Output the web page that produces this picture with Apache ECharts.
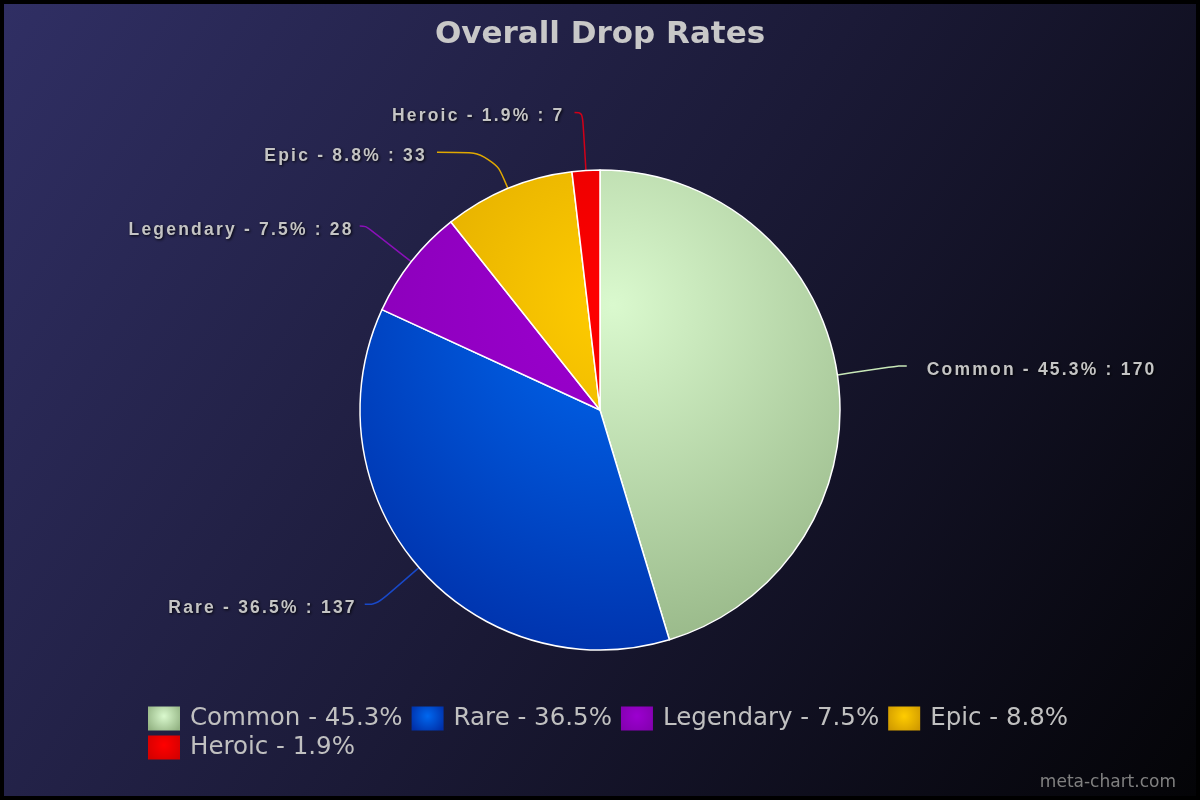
<!DOCTYPE html>
<html>
<head>
<meta charset="utf-8">
<script src="https://cdn.jsdelivr.net/npm/echarts@6/dist/echarts.min.js"></script>
<style>
html,body{margin:0;padding:0;background:#000;}
#chart{width:1200px;height:800px;}
</style>
</head>
<body>
<div id="chart"></div>
<script>
// ---- data ----
const categories = ['Common', 'Rare', 'Legendary', 'Epic', 'Heroic'];
const values = [170, 137, 28, 33, 7];
const innerColors = ['#daf9ce', '#0068f0', '#9c00d0', '#ffcc00', '#ff0000'];
const outerColors = ['#93b383', '#002fa8', '#8400b0', '#d09a00', '#d40000'];
const lineColors = ['#c8e8b8', '#1848c8', '#8a10b8', '#e0a800', '#d00018'];
const lineLen1 = [62, 56, 58, 39, 58];
const lineLen2 = [8, 12, 6, 56, 8];
const labelGap = [20, 8, 6, 10, 10];

// letter-spaced slice labels (canvas letterSpacing only for the 17.5px label font)
(function(){
  const proto = CanvasRenderingContext2D.prototype;
  const orig = proto.fillText;
  proto.fillText = function(){
    const f = this.font;
    if (f && f.indexOf('17.5px') >= 0 && ('letterSpacing' in this)) {
      this.letterSpacing = '2.2px';
      this.font = f;
      orig.apply(this, arguments);
      this.letterSpacing = '0px';
      this.font = f;
    } else {
      if ('letterSpacing' in this && this.letterSpacing !== '0px') {
        this.letterSpacing = '0px';
        this.font = f;
      }
      orig.apply(this, arguments);
    }
  };
})();

const total = values.reduce((a, b) => a + b, 0);
const pct = v => (v / total * 100).toFixed(1);

function sliceGrad(i) {
  return {
    type: 'radial', x: 613, y: 305, r: 380, global: true,
    colorStops: [{offset: 0, color: innerColors[i]}, {offset: 1, color: outerColors[i]}]
  };
}
function iconGrad(i) {
  return {
    type: 'radial', x: 0.5, y: 0.4, r: 0.8,
    colorStops: [{offset: 0, color: innerColors[i]}, {offset: 1, color: outerColors[i]}]
  };
}

const chart = echarts.init(document.getElementById('chart'), null, {renderer: 'canvas'});
chart.setOption({
  backgroundColor: '#000',
  animation: false,
  graphic: [{
    type: 'rect', z: -10, silent: true,
    shape: {x: 4, y: 4, width: 1192, height: 792},
    style: {
      fill: {
        type: 'linear', x: 0, y: 0, x2: 1, y2: 1,
        colorStops: [
          {offset: 0, color: '#302f64'},
          {offset: 0.5, color: '#1b1a37'},
          {offset: 1, color: '#040407'}
        ]
      }
    }
  }],
  title: [{
    text: 'Overall Drop Rates',
    left: 'center', top: 14,
    textStyle: {fontFamily: 'DejaVu Sans', fontWeight: 'bold', fontSize: 31, color: '#c8c8c8'}
  }, {
    text: 'meta-chart.com',
    right: 19, bottom: 4,
    textStyle: {fontFamily: 'DejaVu Sans', fontWeight: 'normal', fontSize: 17, color: '#808080'}
  }],
  legend: {
    orient: 'horizontal',
    left: 148, top: 706, width: 950,
    itemWidth: 32, itemHeight: 24, itemGap: 4,
    icon: 'rect',
    padding: 0,
    data: categories.map((c, i) => ({name: c, itemStyle: {color: iconGrad(i), borderWidth: 0}})),
    formatter: name => name + ' - ' + pct(values[categories.indexOf(name)]) + '%',
    textStyle: {fontFamily: 'DejaVu Sans', fontSize: 24.5, color: '#c0c0c0', lineHeight: 24, padding: [0, 5, 0, 5]}
  },
  series: [{
    type: 'pie',
    center: [600, 410],
    radius: 240,
    startAngle: 90,
    clockwise: true,
    avoidLabelOverlap: false,
    percentPrecision: 1,
    emphasis: {disabled: true},
    itemStyle: {borderColor: '#ffffff', borderWidth: 1.5},
    label: {
      show: true,
      position: 'outside',
      formatter: '{s| }\n{t|{b} - {d}% : {c}}',
      fontFamily: 'Liberation Sans',
      fontWeight: 'bold',
      fontSize: 17.5,
      color: '#c4c4c4',
      textShadowColor: 'rgba(0,0,0,0.9)',
      textShadowBlur: 3,
      textShadowOffsetX: 1,
      textShadowOffsetY: 1,
      rich: {
        s: {fontSize: 2, lineHeight: 8},
        t: {fontSize: 17.5, lineHeight: 20}
      }
    },
    labelLine: {show: true, smooth: 0.4, lineStyle: {width: 1.5}},
    data: categories.map((c, i) => ({
      name: c,
      value: values[i],
      itemStyle: {color: sliceGrad(i)},
      label: {distanceToLabelLine: labelGap[i]},
      labelLine: {length: lineLen1[i], length2: lineLen2[i], lineStyle: {color: lineColors[i]}}
    }))
  }]
});
</script>
</body>
</html>
